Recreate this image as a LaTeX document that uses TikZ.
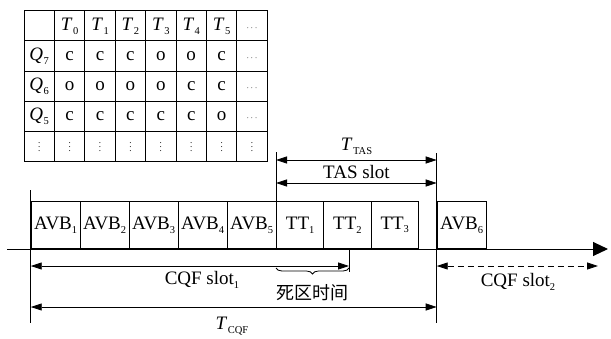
\documentclass[tikz,border=0pt]{standalone}
\usepackage{fontspec}
\setmainfont{Liberation Serif}
\newfontfamily\cjk{Noto Sans CJK SC}
\usetikzlibrary{arrows.meta, positioning, matrix, decorations.pathreplacing}
\newcommand{\idx}[1]{\raisebox{-0.45ex}{\fontsize{10.5}{10.5}\selectfont #1}}
\newcommand{\tvar}[1]{\textit{T}\kern0.5pt\idx{#1}}
\newcommand{\qvar}[1]{\textit{Q}\kern0.5pt\idx{#1}}
\newcommand{\hd}{{\fontsize{9}{9}\selectfont$\cdots$}}
\newcommand{\vd}{{\fontsize{9}{9}\selectfont$\vdots$}}

\begin{document}
\begin{tikzpicture}[x=1pt, y=-1pt,
  every node/.style={font=\fontsize{19}{22}\selectfont},
  cell/.style={draw, line width=1pt, minimum width=30.4pt,
    minimum height=30.2pt, inner sep=0pt, text height=13pt,
    text depth=4pt, text width=28pt, align=center, anchor=center},
  slotbox/.style={draw, line width=1pt, minimum height=47.3pt,
    inner sep=0pt, anchor=south west},
  span/.style={{Triangle[length=11pt,width=7pt]}-{Triangle[length=11pt,width=7pt]},
    line width=0.8pt},
  guide/.style={line width=0.9pt}
]
  \useasboundingbox (0,0) rectangle (611,338);
  % gate control list
  \matrix (gcl) [matrix of nodes, nodes={cell}, nodes in empty cells,
    column sep=-1pt, row sep=-1pt, anchor=north west] at (20,6.7) {
           & \tvar{0} & \tvar{1} & \tvar{2} & \tvar{3} & \tvar{4} & \tvar{5} & \hd \\
    \qvar{7} & c & c & c & o & o & c & \hd \\
    \qvar{6} & o & o & o & o & c & c & \hd \\
    \qvar{5} & c & c & c & c & c & o & \hd \\
    \vd & \vd & \vd & \vd & \vd & \vd & \vd & \vd \\
  };
  % frames on the time axis
  \foreach \n/\x in {1/30.7, 2/79.7, 3/128.7, 4/177.7, 5/226.7}
    \node[slotbox, minimum width=49pt] (avb\n) at (\x,249) {AVB\idx{\n}};
  \foreach \n/\x in {1/276, 2/323.3, 3/370.6}
    \node[slotbox, minimum width=47.3pt] (tt\n) at (\x,249) {TT\idx{\n}};
  \node[slotbox, minimum width=49pt] (avb6) at (436.7,249) {AVB\idx{6}};
  % axis
  \coordinate (axisL) at (7,249);
  \coordinate (axisR) at (608,249);
  \draw[line width=1pt, -{Triangle[length=15pt,width=14pt]}] (axisL) -- (axisR);
  % slot borders
  \coordinate (leftTop) at (30.7,190);
  \coordinate (leftBot) at (30.7,323);
  \coordinate (midTop) at (276,152);
  \coordinate (rightTop) at (436.7,153);
  \coordinate (rightBot) at (436.7,323);
  \draw[guide] (leftTop) -- (leftBot);
  \draw[guide] (midTop) -- (tt1.south west);
  \draw[guide] (rightTop) -- (rightBot);
  % TAS spans
  \coordinate (tasA1) at (276,160);    \coordinate (tasB1) at (436.7,160);
  \coordinate (tasA2) at (276,183);    \coordinate (tasB2) at (436.7,183);
  \draw[span] (tasA1) -- (tasB1);
  \draw[span] (tasA2) -- (tasB2);
  \node (ttas) at (356.5,146) {\tvar{TAS}};
  \node (tasslot) at (356.5,172) {TAS slot};
  % CQF spans
  \coordinate (cqfA) at (30.7,266);    \coordinate (cqfB) at (349,266);
  \coordinate (deadTop) at (349,249);  \coordinate (deadBot) at (349,272);
  \draw[guide] (deadTop) -- (deadBot);
  \draw[span] (cqfA) -- (cqfB);
  \node (cqf1) at (202,280) {CQF slot\idx{1}};
  \coordinate (tcqfA) at (30.7,307);   \coordinate (tcqfB) at (436.7,307);
  \draw[span] (tcqfA) -- (tcqfB);
  \node (tcqf) at (232,326) {\tvar{CQF}};
  \coordinate (cqf2A) at (436.7,266);  \coordinate (cqf2B) at (598,266);
  \draw[span, dashed, dash pattern=on 6pt off 4pt] (cqf2A) -- (cqf2B);
  \node (cqf2) at (518,282) {CQF slot\idx{2}};
  % dead time
  \coordinate (braceA) at (276,268);   \coordinate (braceB) at (349,268);
  \draw[line width=0.8pt, decorate, decoration={brace, mirror, amplitude=6pt}]
    (braceA) -- (braceB);
  \node[font=\cjk\fontsize{18}{20}\selectfont] (dead) at (312,293) {死区时间};
\end{tikzpicture}
\end{document}
